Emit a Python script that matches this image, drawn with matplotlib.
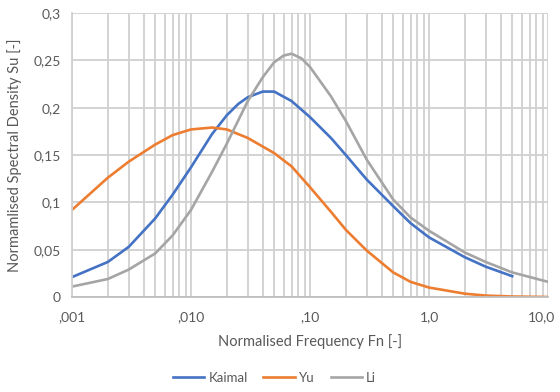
import numpy as np
import matplotlib
matplotlib.use("Agg")
import matplotlib.pyplot as plt
from matplotlib.ticker import LogLocator, FixedLocator, NullFormatter
from matplotlib.transforms import offset_copy

# values
freq_kaimal = [0.001, 0.002, 0.003, 0.005, 0.007, 0.01, 0.015, 0.02, 0.025, 0.03, 0.04,
               0.05, 0.07, 0.1, 0.15, 0.2, 0.3, 0.5, 0.7, 1.0, 2.0, 3.0, 5.0]
su_kaimal = [0.021, 0.037, 0.053, 0.083, 0.108, 0.137, 0.172, 0.192, 0.204, 0.211, 0.217,
             0.217, 0.207, 0.190, 0.168, 0.150, 0.124, 0.096, 0.078, 0.063, 0.042, 0.032, 0.022]

freq_yu = [0.001, 0.002, 0.003, 0.005, 0.007, 0.01, 0.015, 0.02, 0.03, 0.05,
           0.07, 0.1, 0.15, 0.2, 0.3, 0.5, 0.7, 1.0, 2.0, 3.0, 5.0, 10.0]
su_yu = [0.092, 0.126, 0.143, 0.161, 0.171, 0.177, 0.179, 0.177, 0.168, 0.152,
         0.138, 0.116, 0.090, 0.071, 0.049, 0.026, 0.016, 0.010, 0.0035, 0.0015, 0.0005, 0.0]

freq_li = [0.001, 0.002, 0.003, 0.005, 0.007, 0.01, 0.015, 0.02, 0.03, 0.04,
           0.05, 0.06, 0.07, 0.085, 0.1, 0.15, 0.2, 0.3, 0.5, 0.7, 1.0, 2.0, 3.0, 5.0, 10.0]
su_li = [0.011, 0.019, 0.029, 0.046, 0.065, 0.092, 0.132, 0.162, 0.207, 0.232,
         0.248, 0.255, 0.257, 0.252, 0.243, 0.212, 0.186, 0.145, 0.103, 0.084, 0.070,
         0.047, 0.037, 0.026, 0.016]

x_ticks = [0.001, 0.01, 0.1, 1.0, 10.0]
x_ticklabels = [",001", ",010", ",10", "1,0", "10,0"]
y_ticks = [0, 0.05, 0.1, 0.15, 0.2, 0.25, 0.3]
y_ticklabels = ["0", "0,05", "0,1", "0,15", "0,2", "0,25", "0,3"]

plt.rcParams["font.family"] = ["Lato", "DejaVu Sans"]
text_col = "#595959"
grid_col = "#d0d0d0"

fig = plt.figure(figsize=(5.6, 3.92), dpi=100)
ax = fig.add_axes([72 / 560, 1 - 297 / 392, 476 / 560, 284 / 392])

ax.plot(freq_kaimal, su_kaimal, color="#4472C4", lw=1.9, label="Kaimal")
ax.plot(freq_yu, su_yu, color="#ED7D31", lw=1.9, label="Yu")
ax.plot(freq_li, su_li, color="#A5A5A5", lw=1.9, label="Li")

ax.set_xscale("log")
ax.set_xlim(0.001, 10)
ax.set_ylim(0, 0.3)

ax.xaxis.set_major_locator(FixedLocator(x_ticks))
# last label is drawn by hand, a little to the left, so it stays inside the image
ax.set_xticklabels(x_ticklabels[:-1] + [""])
ax.text(x_ticks[-1], 0, x_ticklabels[-1], color=text_col, fontsize=10,
        ha="center", va="top",
        transform=offset_copy(ax.get_xaxis_transform(), fig=fig, x=-5, y=-10, units="points"))
ax.xaxis.set_minor_locator(LogLocator(base=10, subs=np.arange(2, 10)))
ax.xaxis.set_minor_formatter(NullFormatter())
ax.set_yticks(y_ticks)
ax.set_yticklabels(y_ticklabels)

ax.grid(True, which="both", axis="x", color=grid_col, lw=1.3)
ax.grid(True, which="major", axis="y", color=grid_col, lw=1.3)
ax.set_axisbelow(True)

ax.tick_params(which="both", length=0, colors=text_col, labelsize=10)
ax.tick_params(axis="x", pad=10)
ax.tick_params(axis="y", pad=8)

for side in ["top", "right"]:
    ax.spines[side].set_visible(False)
ax.spines["left"].set_color(grid_col)
ax.spines["left"].set_linewidth(1.3)
ax.spines["bottom"].set_color("#bfbfbf")
ax.spines["bottom"].set_linewidth(1.3)

ax.set_xlabel("Normalised Frequency Fn [-]", color=text_col, fontsize=10.5, labelpad=8)
ax.set_ylabel("Normamlised Spectral Density Su [-]", color=text_col, fontsize=10.5, labelpad=8)

leg = fig.legend(loc="center", bbox_to_anchor=(0.49, 1 - 378 / 392), ncol=3,
                 frameon=False, fontsize=9.5, handlelength=2.4, columnspacing=1.2,
                 handletextpad=0.3)
for t in leg.get_texts():
    t.set_color(text_col)

fig.savefig("out.png", dpi=100)
